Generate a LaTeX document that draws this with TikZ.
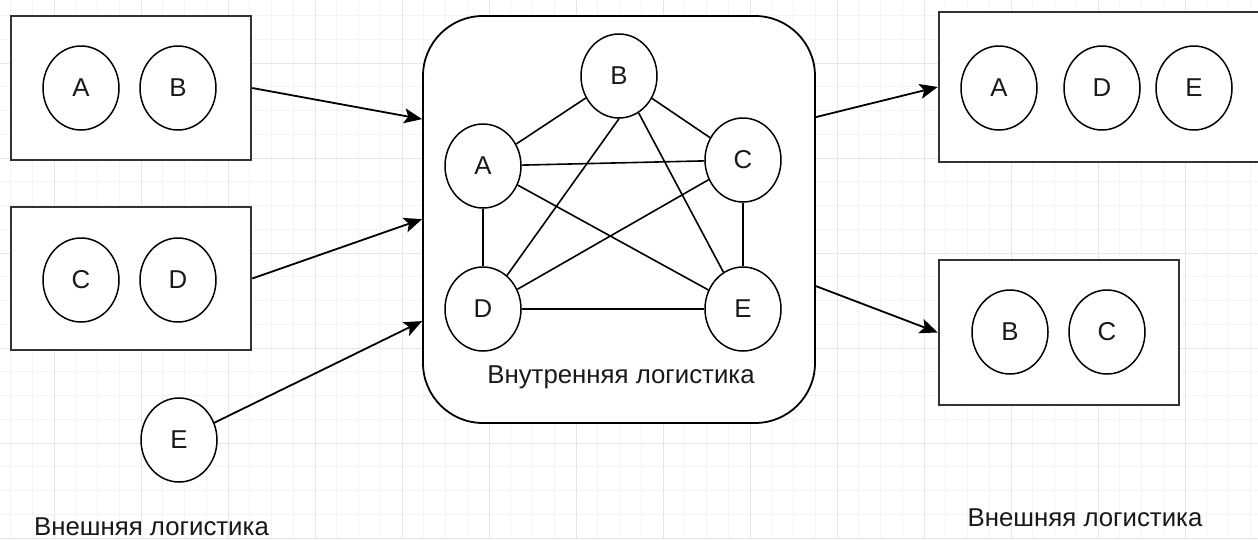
\documentclass[tikz,border=0pt]{standalone}
\usepackage{fontspec}
\setmainfont{Liberation Sans}
\usetikzlibrary{arrows.meta,shapes.geometric,calc}
\definecolor{gridminor}{HTML}{F4F4F4}
\definecolor{gridmajor}{HTML}{E6E6E6}
\definecolor{boxline}{HTML}{333333}
\begin{document}
\begin{tikzpicture}[x=1pt,y=-1pt,
  every node/.style={font=\fontsize{25.8}{30}\selectfont, text=black!90},
  circ/.style={draw=black, fill=white, line width=1.5pt, ellipse, minimum width=76pt, minimum height=84pt, inner sep=0pt},
  holder/.style={draw=boxline, fill=white, line width=2.5pt, rectangle, inner sep=0pt},
  edge/.style={line width=1.6pt, black},
  flow/.style={line width=1.8pt, black, -{Stealth[length=18pt,width=15pt,inset=4pt]}}]
\useasboundingbox (0,0) rectangle (1258,539);
\clip (0,0) rectangle (1258,539);
\fill[white] (0,0) rectangle (1258,539);
% grid
\foreach \k in {0,...,57} {
  \pgfmathsetmacro{\xx}{10.5+21.75*\k}
  \draw[gridminor, line width=0.9pt] (\xx,0) -- (\xx,539);
}
\foreach \k in {0,...,23} {
  \pgfmathsetmacro{\yy}{-8.25+23.75*\k}
  \draw[gridminor, line width=0.9pt] (0,\yy) -- (1258,\yy);
}
\foreach \k in {0,...,14} {
  \pgfmathsetmacro{\xx}{-33+87*\k}
  \draw[gridmajor, line width=1pt] (\xx,0) -- (\xx,539);
}
\foreach \k in {0,...,6} {
  \pgfmathsetmacro{\yy}{-32+95*\k}
  \draw[gridmajor, line width=1pt] (0,\yy) -- (1258,\yy);
}
% left holders
\node[holder, minimum width=240pt, minimum height=144pt] (L1) at (131,88) {};
\node[holder, minimum width=240pt, minimum height=143pt] (L2) at (131,278.5) {};
\node[circ] (lA) at (81,88) {A};
\node[circ] (lB) at (178,88) {B};
\node[circ] (lC) at (81,280) {C};
\node[circ] (lD) at (178,280) {D};
\node[circ] (xE) at (179,440) {E};
\node (tl) at (151.5,527) {Внешняя логистика};
% central
\node[draw=black, fill=white, line width=1.8pt, rounded corners=60pt, minimum width=392pt, minimum height=407pt, inner sep=0pt] (Cbox) at (619,219.5) {};
\node[circ] (iB) at (619,76) {B};
\node[circ] (iA) at (483,166) {A};
\node[circ] (iC) at (743,160) {C};
\node[circ] (iD) at (483,309) {D};
\node[circ] (iE) at (743,309) {E};
\node (tc) at (621,377) {Внутренняя логистика};
\draw[edge] (iA) -- (iB);
\draw[edge] (iB) -- (iC);
\draw[edge] (iA) -- (iC);
\draw[edge] (iA) -- (iD);
\draw[edge] (iA) -- (iE);
\draw[edge] (iB.south) -- (iD);
\draw[edge] (iB.-62) -- (iE);
\draw[edge] (iC) -- (iD);
\draw[edge] (iC) -- (iE);
\draw[edge] (iD) -- (iE);
% right holders
\node[holder, minimum width=331pt, minimum height=150pt] (R1) at (1104.5,87) {};
\node[holder, minimum width=240pt, minimum height=145pt] (R2) at (1059,332.5) {};
\node[circ] (rA) at (999,88) {A};
\node[circ] (rD) at (1102,88) {D};
\node[circ] (rE) at (1194,88) {E};
\node[circ] (rB) at (1010,332) {B};
\node[circ] (rC) at (1107,332) {C};
\node (tr) at (1085,518) {Внешняя логистика};
% flows
\draw[flow] (L1.east) -- ($(Cbox.north west)+(0,104)$);
\draw[flow] (L2.east) -- ($(Cbox.north west)+(0,204)$);
\draw[flow] (xE) -- ($(Cbox.north west)+(0,306)$);
\draw[flow] ($(Cbox.north east)+(0,102)$) -- (R1.west);
\draw[flow] ($(Cbox.north east)+(0,271)$) -- (R2.west);
\end{tikzpicture}
\end{document}
